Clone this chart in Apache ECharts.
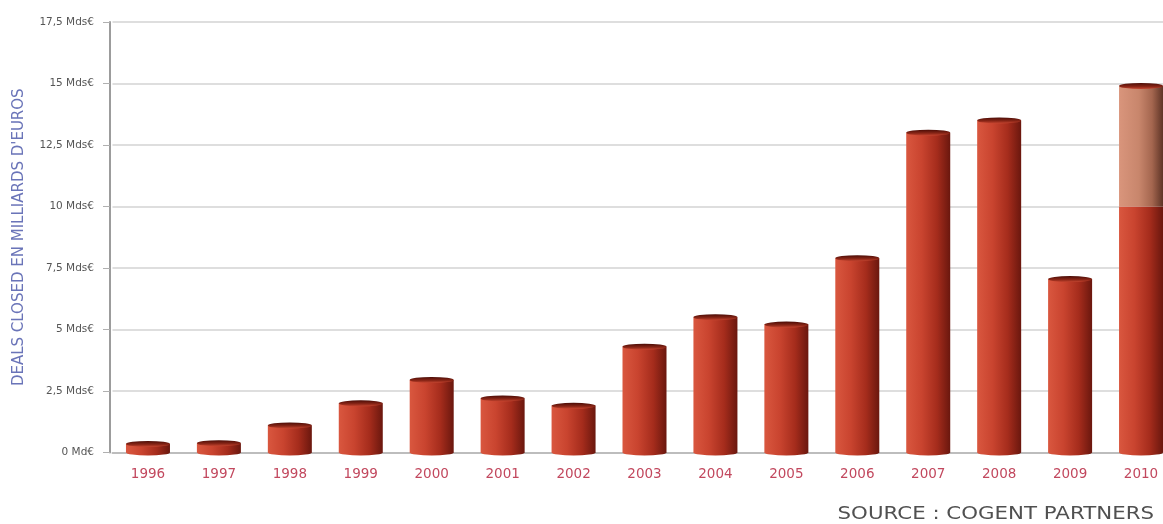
<!DOCTYPE html>
<html>
<head>
<meta charset="utf-8">
<script src="https://cdn.jsdelivr.net/npm/echarts@6/dist/echarts.min.js"></script>
<style>
html,body{margin:0;padding:0;background:#fff;overflow:hidden;}
#c{width:1177px;height:524px;}
</style>
</head>
<body>
<div id="c"></div>
<script>
var years = ['1996','1997','1998','1999','2000','2001','2002','2003','2004','2005','2006','2007','2008','2009','2010'];
var dealsMain = [0.35, 0.38, 1.1, 2.0, 2.95, 2.2, 1.9, 4.3, 5.5, 5.2, 7.9, 13.0, 13.5, 7.05, 10];
var dealsExtra = [null, null, null, null, null, null, null, null, null, null, null, null, null, null, 4.9];
var yTickLabels = ['0 Md€', '2,5 Mds€', '5 Mds€', '7,5 Mds€', '10 Mds€', '12,5 Mds€', '15 Mds€', '17,5 Mds€'];
var yAxisTitle = "DEALS CLOSED EN MILLIARDS D'EUROS";
var sourceText = 'SOURCE : COGENT PARTNERS';

var totals = dealsMain.map(function (v, i) { return v + (dealsExtra[i] || 0); });

var chart = echarts.init(document.getElementById('c'), null, {renderer: 'canvas'});
var fam = "'DejaVu Sans', sans-serif";
var BW = 44;

var redGrad = new echarts.graphic.LinearGradient(0, 0, 1, 0, [
  {offset: 0, color: '#d9573f'},
  {offset: 0.35, color: '#c9442f'},
  {offset: 0.7, color: '#a52c1c'},
  {offset: 1, color: '#6a170e'}
]);
var lightGrad = new echarts.graphic.LinearGradient(0, 0, 1, 0, [
  {offset: 0, color: '#d9957c'},
  {offset: 0.45, color: '#c8866c'},
  {offset: 0.75, color: '#a4664f'},
  {offset: 1, color: '#5e3426'}
]);
var capGrad = new echarts.graphic.LinearGradient(0, 0, 0, 1, [
  {offset: 0, color: '#4a0c06'},
  {offset: 0.6, color: '#8a2617'},
  {offset: 1, color: '#c4442f'}
]);

chart.setOption({
  animation: false,
  backgroundColor: '#ffffff',
  grid: {left: 112.5, right: 0.5, top: 22, bottom: 71.5, containLabel: false},
  xAxis: {
    type: 'category',
    data: years,
    axisLine: {show: true, lineStyle: {color: '#bdbdbd', width: 2}},
    axisTick: {show: false},
    axisLabel: {color: '#c2485e', fontFamily: fam, fontSize: 13.5, margin: 15}
  },
  yAxis: {
    type: 'value',
    min: 0, max: 17.5, interval: 2.5,
    offset: 2.5,
    name: yAxisTitle,
    nameLocation: 'middle',
    nameGap: 83,
    nameRotate: 90,
    nameTextStyle: {color: '#6a74b8', fontFamily: fam, fontSize: 15},
    axisLine: {show: true, lineStyle: {color: '#9c9c9c', width: 2}},
    axisTick: {show: true, length: 7, lineStyle: {color: '#b0b0b0', width: 1}},
    axisLabel: {
      color: '#555', fontFamily: fam, fontSize: 10.5, margin: 16,
      formatter: function (v) { return yTickLabels[Math.round(v / 2.5)]; }
    },
    splitLine: {show: true, lineStyle: {color: '#dedede', width: 2}}
  },
  series: [
    {
      type: 'bar', stack: 'd', barWidth: BW, data: dealsMain,
      itemStyle: {color: redGrad}, z: 2
    },
    {
      type: 'bar', stack: 'd', barWidth: BW, data: dealsExtra,
      itemStyle: {color: lightGrad}, z: 2
    },
    {
      type: 'pictorialBar', data: dealsMain, symbol: 'circle',
      symbolSize: [BW, 6], symbolPosition: 'start', symbolOffset: [0, '50%'],
      itemStyle: {color: redGrad}, z: 3
    },
    {
      type: 'pictorialBar', data: totals, symbol: 'circle',
      symbolSize: [BW, 6], symbolPosition: 'end', symbolOffset: [0, '-50%'],
      itemStyle: {color: capGrad}, z: 4
    }
  ],
  graphic: [
    {
      type: 'text', x: 1154, y: 514, scaleX: 1.185, originX: 0, originY: 0,
      style: {text: sourceText, fill: '#505050', font: "18px 'DejaVu Sans', sans-serif",
              textAlign: 'right', textVerticalAlign: 'middle'}
    }
  ]
});
</script>
</body>
</html>
